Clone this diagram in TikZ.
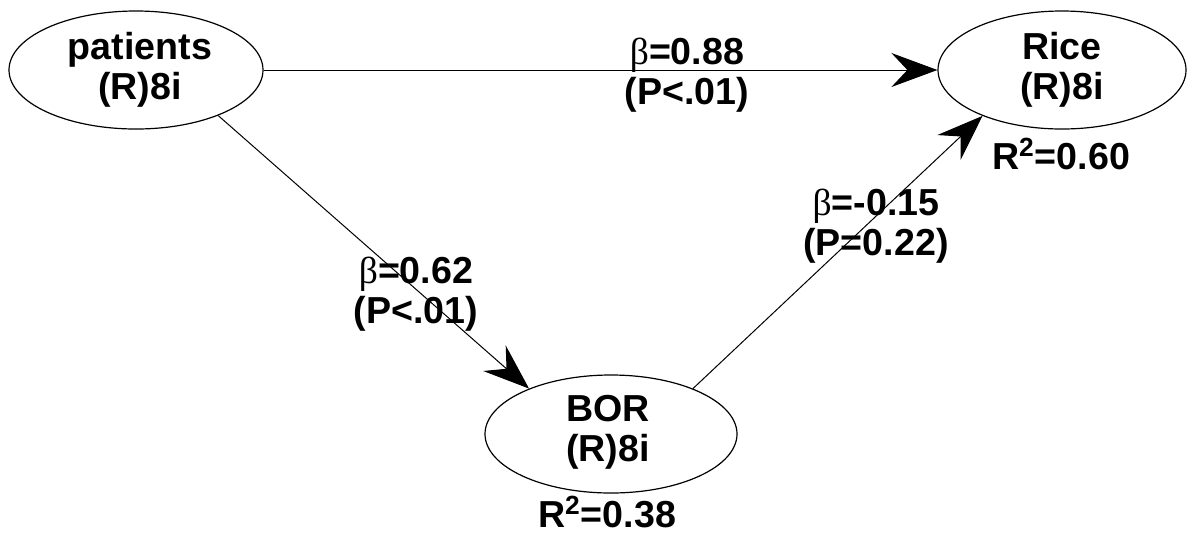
\documentclass[tikz,border=0pt]{standalone}
\usepackage{fontspec}
\setmainfont{Liberation Sans}
\newfontfamily\betafont{Liberation Serif}
\usetikzlibrary{shapes.geometric,arrows.meta}
\newcommand{\bt}{{\betafont\mdseries β}}
\begin{document}
\begin{tikzpicture}[x=0.5pt,y=-0.5pt,
  latent/.style={draw=black, line width=0.6pt, ellipse, inner sep=0pt, fill=white},
  lbl/.style={inner sep=0pt, align=center, font=\bfseries\fontsize{18.8}{20}\selectfont},
  path/.style={draw=black, line width=0.5pt, -{Stealth[length=23pt,width=17pt,inset=8pt]}}
]
\useasboundingbox (0,0) rectangle (1188,537);
\node[latent, minimum width=127pt, minimum height=59pt] (pat) at (136,70) {};
\node[latent, minimum width=124pt, minimum height=59pt] (rice) at (1062,70) {};
\node[latent, minimum width=126pt, minimum height=59pt] (bor) at (611,434) {};
\node[lbl] (patT) at (140,70) {patients\\(R)8i};
\node[lbl] (riceT) at (1062,70) {Rice\\(R)8i};
\node[lbl] (borT) at (608,432) {BOR\\(R)8i};
\node[lbl] (r2rice) at (1061,154) {R\textsuperscript{2}=0.60};
\node[lbl] (r2bor) at (607,512) {R\textsuperscript{2}=0.38};
\draw[path] (pat.east) -- (rice.west);
\draw[path] (pat.-29) -- (bor.151);
\draw[path] (bor.29) -- (rice.210);
\node[lbl] (l1) at (687,75) {\bt=0.88\\(P<.01)};
\node[lbl] (l2) at (416,294) {\bt=0.62\\(P<.01)};
\node[lbl] (l3) at (876,226) {\bt=-0.15\\(P=0.22)};
\end{tikzpicture}
\end{document}
